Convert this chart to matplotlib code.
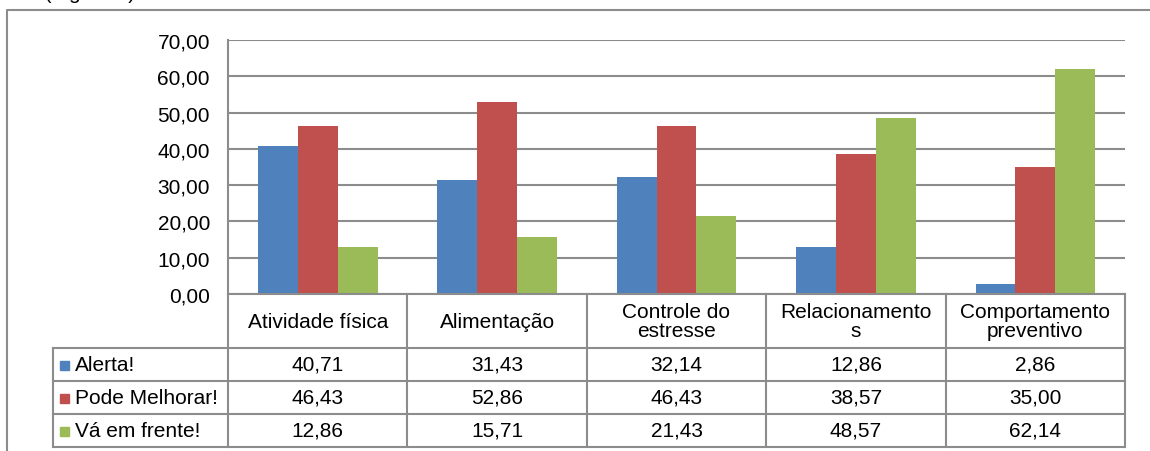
import matplotlib.pyplot as plt
import matplotlib.transforms as mtransforms
from matplotlib.lines import Line2D
from matplotlib.patches import Rectangle
import numpy as np

plt.rcParams['font.family'] = ['Liberation Sans', 'DejaVu Sans']

categories = ['Atividade física', 'Alimentação', 'Controle do\nestresse',
              'Relacionamento\ns', 'Comportamento\npreventivo']
series = ['Alerta!', 'Pode Melhorar!', 'Vá em frente!']
alerta = [40.71, 31.43, 32.14, 12.86, 2.86]
pode_melhorar = [46.43, 52.86, 46.43, 38.57, 35.00]
va_em_frente = [12.86, 15.71, 21.43, 48.57, 62.14]
values = [alerta, pode_melhorar, va_em_frente]
colors = ['#4F81BD', '#C0504D', '#9BBB59']
yticks = np.arange(0, 80, 10)

W, H = 1150, 452
fig = plt.figure(figsize=(W / 100, H / 100), dpi=100)

def fx(x):
    return x / W

def fy(y):
    return 1 - y / H

line_col = '#8c8c8c'
fs = 15

# plot area in pixel terms
left, right, top, bottom = 228, 1125, 41, 295
ax = fig.add_axes([fx(left), fy(bottom), fx(right - left), (bottom - top) / H])
n = len(categories)
bw = 2 / 9
x = np.arange(n) + 0.5
for i, (vals, c) in enumerate(zip(values, colors)):
    ax.bar(x + (i - 1) * bw, vals, width=bw, color=c, zorder=3)
ax.set_xlim(0, n)
ax.set_ylim(0, 70)
ax.set_yticks(yticks)
ax.set_yticklabels([f'{v:.2f}'.replace('.', ',') for v in yticks], fontsize=fs)
ax.tick_params(axis='y', length=0, pad=13)
ax.set_xticks([])
ax.grid(axis='y', color=line_col, linewidth=1.5, zorder=0)
for s in ['top', 'right', 'bottom']:
    ax.spines[s].set_visible(False)
ax.spines['left'].set_color(line_col)
ax.spines['left'].set_linewidth(1.5)

# data table under the bars
blend = mtransforms.blended_transform_factory(ax.transData, fig.transFigure)
row_y = [295, 349, 382, 415, 448]
tab_left = 53

def hline(x0, x1, y):
    fig.add_artist(Line2D([fx(x0), fx(x1)], [fy(y), fy(y)], color=line_col, lw=1.5))

hline(left, right, row_y[0])
for y in row_y[1:]:
    hline(tab_left, right, y)
for k in range(n + 1):
    fig.add_artist(Line2D([k, k], [fy(row_y[0]), fy(row_y[-1])], transform=blend,
                          color=line_col, lw=1.5))
fig.add_artist(Line2D([fx(tab_left)] * 2, [fy(row_y[1]), fy(row_y[-1])],
                      color=line_col, lw=1.5))

for k, cat in enumerate(categories):
    fig.text(k + 0.5, fy((row_y[0] + row_y[1]) / 2), cat, transform=blend,
             ha='center', va='center', fontsize=fs, linespacing=1.05)

for r, (name, vals, c) in enumerate(zip(series, values, colors)):
    yc = (row_y[r + 1] + row_y[r + 2]) / 2
    fig.add_artist(Rectangle((fx(60), fy(yc + 5)), fx(9), 9 / H, color=c))
    fig.text(fx(75), fy(yc), name, ha='left', va='center', fontsize=fs)
    for k, v in enumerate(vals):
        fig.text(k + 0.5, fy(yc), f'{v:.2f}'.replace('.', ','), transform=blend,
                 ha='center', va='center', fontsize=fs)

# surrounding chart frame and clipped caption above it
fig.add_artist(Line2D([fx(7), fx(7), fx(1160)], [fy(460), fy(11), fy(11)],
                      color=line_col, lw=1.5))
fig.text(fx(-2), fy(-1), 'ento (Figura 4)', ha='left', va='baseline', fontsize=fs)

fig.savefig('out.png', dpi=100)
